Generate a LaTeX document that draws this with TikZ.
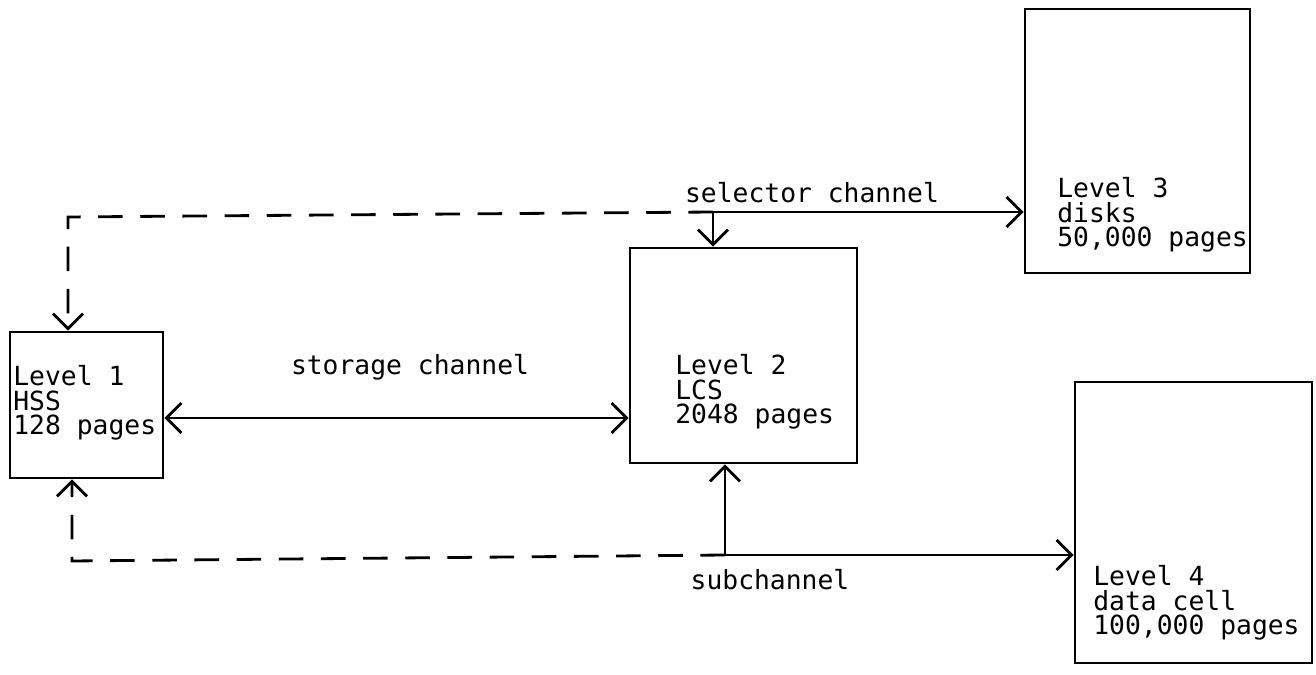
\documentclass[tikz,border=0pt]{standalone}
\usepackage{fontspec}
\setmonofont{DejaVu Sans Mono}
\usetikzlibrary{arrows.meta}

\begin{document}
\begin{tikzpicture}[x=0.02cm, y=-0.02cm,
    >={Straight Barb[length=3mm, width=6mm]},
    store/.style={rectangle, draw, line width=1.6pt, inner sep=0pt},
    info/.style={anchor=north west, inner sep=0pt, align=left, font=\ttfamily\fontsize{15}{14}\selectfont},
    chan/.style={anchor=base, inner sep=0pt, font=\ttfamily\fontsize{15}{14}\selectfont},
    link/.style={line width=1.6pt},
    backlink/.style={line width=1.6pt, dash pattern=on 14pt off 10pt}]

\useasboundingbox (0,0) rectangle (1316,675);

% Storage levels
\node[store, minimum width=3.06cm, minimum height=2.92cm] (hss) at (86.5,405) {};
\node[store, minimum width=4.54cm, minimum height=4.30cm] (lcs) at (743.5,355.5) {};
\node[store, minimum width=4.50cm, minimum height=5.28cm] (disk) at (1137.5,141) {};
\node[store, minimum width=4.74cm, minimum height=5.62cm] (cell) at (1193.5,522.5) {};

% Level texts
\node[info] (hsstext) at (13,365) {Level 1\\HSS\\128 pages};
\node[info] (lcstext) at (675,354) {Level 2\\LCS\\2048 pages};
\node[info] (disktext) at (1057,177) {Level 3\\disks\\50,000 pages};
\node[info] (celltext) at (1093,565) {Level 4\\data cell\\100,000 pages};

% Bends
\coordinate (selbend) at (713,212);
\coordinate (subbend) at (725,555);
\coordinate (topleft) at (68,217);
\coordinate (botleft) at (72,561);
\coordinate (stor) at (0,418);

% Channels
\draw[link, <->] (hss.east |- stor) -- (lcs.west |- stor);
\draw[link, <->] (lcs.north -| selbend) -- (selbend) -- (disk.west |- selbend);
\draw[link, <->] (lcs.south -| subbend) -- (subbend) -- (cell.west |- subbend);

% Dashed returns to level 1
\draw[backlink, ->] (selbend) -- (topleft) -- (hss.north -| topleft);
\draw[backlink, ->] (subbend) -- (botleft) -- (hss.south -| botleft);

% Channel labels
\node[chan] (sellabel) at (812,203) {selector channel};
\node[chan] (storlabel) at (410,375) {storage channel};
\node[chan] (sublabel) at (770,590) {subchannel};

\end{tikzpicture}
\end{document}
